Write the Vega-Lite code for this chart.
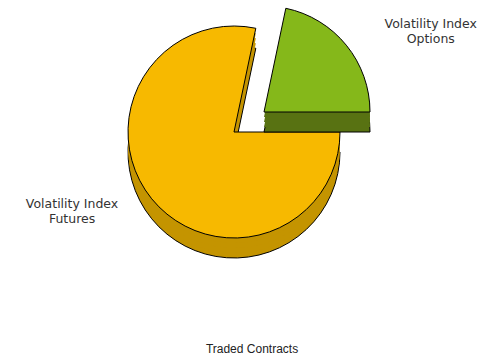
{
  "$schema": "https://vega.github.io/schema/vega-lite/v6.json",
  "width": 468,
  "height": 264,
  "padding": {"left": 0, "top": 0, "right": 24, "bottom": 0},
  "config": {"view": {"stroke": null}},
  "title": {"text": "Traded Contracts", "orient": "bottom", "offset": 80, "dx": 18, "font": "Liberation Sans", "fontSize": 12, "fontWeight": "normal", "color": "#222222"},
  "data": {"values": [
    {"category": "Volatility Index Futures", "value": 78.3},
    {"category": "Volatility Index Options", "value": 21.7}
  ]},
  "encoding": {
    "theta": {"field": "value", "type": "quantitative", "stack": true, "scale": {"range": [1.5708, 7.854]}},
    "order": {"field": "category", "sort": "ascending"},
    "detail": {"field": "category"}
  },
  "layer": [
    {"mark": {"type": "arc", "radius": 106, "yOffset": 20, "strokeWidth": 1},
     "encoding": {"fill": {"condition": {"test": "datum.category === 'Volatility Index Futures'", "value": "#C49400"}, "value": "transparent"},
                  "stroke": {"condition": {"test": "datum.category === 'Volatility Index Futures'", "value": "#000000"}, "value": "transparent"}}},
    {"mark": {"type": "arc", "radius": 106, "yOffset": 15},
     "encoding": {"fill": {"condition": {"test": "datum.category === 'Volatility Index Futures'", "value": "#C49400"}, "value": "transparent"}}},
    {"mark": {"type": "arc", "radius": 106, "yOffset": 10},
     "encoding": {"fill": {"condition": {"test": "datum.category === 'Volatility Index Futures'", "value": "#C49400"}, "value": "transparent"}}},
    {"mark": {"type": "arc", "radius": 106, "yOffset": 5},
     "encoding": {"fill": {"condition": {"test": "datum.category === 'Volatility Index Futures'", "value": "#C49400"}, "value": "transparent"}}},
    {"mark": {"type": "arc", "radius": 106, "strokeWidth": 1},
     "encoding": {"fill": {"condition": {"test": "datum.category === 'Volatility Index Futures'", "value": "#F7B900"}, "value": "transparent"},
                  "stroke": {"condition": {"test": "datum.category === 'Volatility Index Futures'", "value": "#000000"}, "value": "transparent"}}},
    {"mark": {"type": "arc", "radius": 106, "xOffset": 30, "yOffset": 0, "strokeWidth": 1},
     "encoding": {"fill": {"condition": {"test": "datum.category === 'Volatility Index Options'", "value": "#587212"}, "value": "transparent"},
                  "stroke": {"condition": {"test": "datum.category === 'Volatility Index Options'", "value": "#000000"}, "value": "transparent"}}},
    {"mark": {"type": "arc", "radius": 106, "xOffset": 30, "yOffset": -5},
     "encoding": {"fill": {"condition": {"test": "datum.category === 'Volatility Index Options'", "value": "#587212"}, "value": "transparent"}}},
    {"mark": {"type": "arc", "radius": 106, "xOffset": 30, "yOffset": -10},
     "encoding": {"fill": {"condition": {"test": "datum.category === 'Volatility Index Options'", "value": "#587212"}, "value": "transparent"}}},
    {"mark": {"type": "arc", "radius": 106, "xOffset": 30, "yOffset": -15},
     "encoding": {"fill": {"condition": {"test": "datum.category === 'Volatility Index Options'", "value": "#587212"}, "value": "transparent"}}},
    {"mark": {"type": "arc", "radius": 106, "xOffset": 30, "yOffset": -20, "strokeWidth": 1},
     "encoding": {"fill": {"condition": {"test": "datum.category === 'Volatility Index Options'", "value": "#85B81A"}, "value": "transparent"},
                  "stroke": {"condition": {"test": "datum.category === 'Volatility Index Options'", "value": "#000000"}, "value": "transparent"}}},
    {"mark": {"type": "text", "radius": 205, "thetaOffset": 0.17, "xOffset": 18, "yOffset": -8, "font": "DejaVu Sans", "fontSize": 12.5, "lineHeight": 15, "fill": "#333333", "align": "center", "baseline": "middle"},
     "encoding": {"text": {"condition": {"test": "datum.category === 'Volatility Index Options'", "value": ["Volatility Index", "Options"]}, "value": ""}}},
    {"mark": {"type": "text", "radius": 180, "thetaOffset": 0.23, "yOffset": -7, "font": "DejaVu Sans", "fontSize": 12.5, "lineHeight": 15, "fill": "#333333", "align": "center", "baseline": "middle"},
     "encoding": {"text": {"condition": {"test": "datum.category === 'Volatility Index Futures'", "value": ["Volatility Index", "Futures"]}, "value": ""}}}
  ]
}
